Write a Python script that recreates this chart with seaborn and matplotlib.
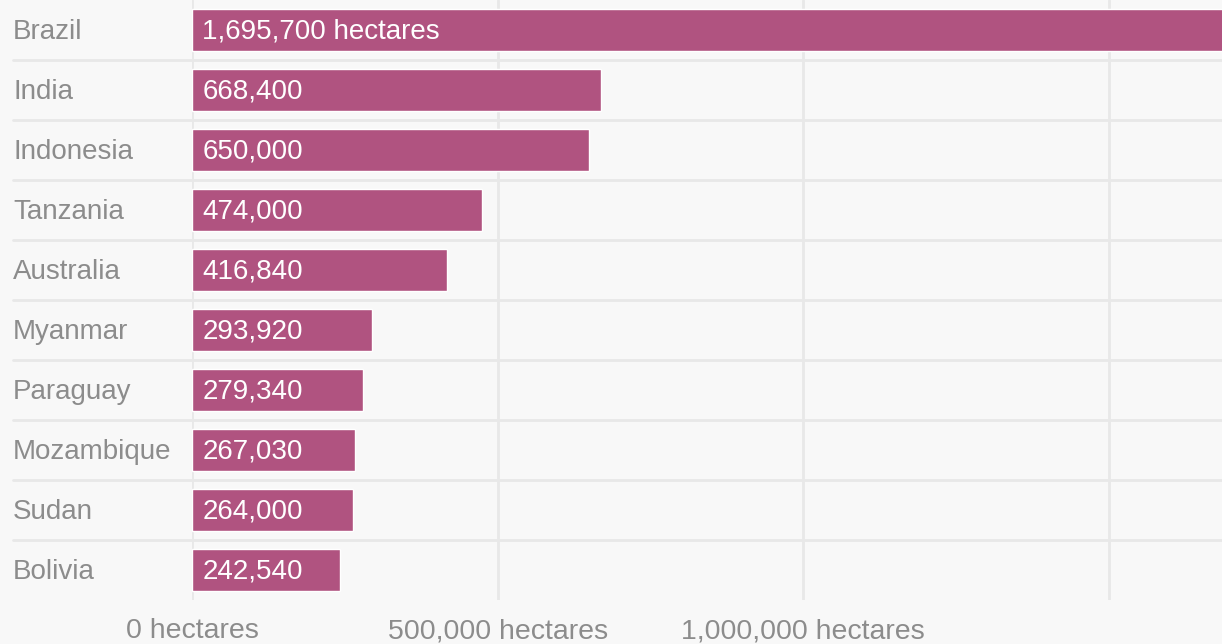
import numpy as np
import pandas as pd
import matplotlib.pyplot as plt
import matplotlib.transforms as mtransforms
import seaborn as sns

# countries and hectares
countries = ["Brazil", "India", "Indonesia", "Tanzania", "Australia",
             "Myanmar", "Paraguay", "Mozambique", "Sudan", "Bolivia"]
hectares = [1695700, 668400, 650000, 474000, 416840,
            293920, 279340, 267030, 264000, 242540]
bar_labels = ["1,695,700 hectares", "668,400", "650,000", "474,000", "416,840",
              "293,920", "279,340", "267,030", "264,000", "242,540"]
tick_values = [0, 500000, 1000000, 1500000]
tick_labels = ["0 hectares", "500,000 hectares", "1,000,000 hectares", ""]

df = pd.DataFrame({"country": countries, "hectares": hectares})

bg = "#f8f8f8"
bar_color = "#b05380"
grid_color = "#e8e8e8"
text_gray = "#8c8c8c"

sns.set_style("white")
plt.rcParams["font.family"] = ["Liberation Sans", "DejaVu Sans"]

fig = plt.figure(figsize=(12.22, 6.44), dpi=100, facecolor=bg)
ax = fig.add_axes([192 / 1222, 44 / 644, 1030 / 1222, 600 / 644])
ax.set_facecolor(bg)

sns.barplot(data=df, x="hectares", y="country", color=bar_color,
            saturation=1, width=0.7, orient="h", ax=ax, zorder=3)

ax.set_xlim(0, 1684900)
ax.set_ylim(len(countries) - 0.5, -0.5)

# vertical gridlines
ax.set_xticks(tick_values)
ax.set_xticklabels(tick_labels, fontsize=20.5, color=text_gray)
ax.tick_params(axis="x", length=0, pad=13)
ax.grid(axis="x", color=grid_color, lw=2, zorder=0)
ax.grid(axis="y", visible=False)

# row separators running into the label area
for i in range(len(countries) - 1):
    ax.axhline(i + 0.5, xmin=-0.174, xmax=1, color=grid_color, lw=2,
               clip_on=False, zorder=1)

# country names, left aligned at the figure edge
ax.set_yticks([])
ax.set_ylabel("")
ax.set_xlabel("")
trans = mtransforms.blended_transform_factory(fig.transFigure, ax.transData)
for i, name in enumerate(countries):
    ax.text(13 / 1222, i + 0.03, name, transform=trans, ha="left", va="center",
            fontsize=20, color=text_gray)

# value labels inside the bars
for i, lab in enumerate(bar_labels):
    ax.annotate(lab, xy=(0, i), xytext=(7.5, -1), textcoords="offset points",
                ha="left", va="center", fontsize=20, color="white", zorder=4)

for s in ax.spines.values():
    s.set_visible(False)

plt.savefig("out.png", dpi=100, facecolor=bg)
